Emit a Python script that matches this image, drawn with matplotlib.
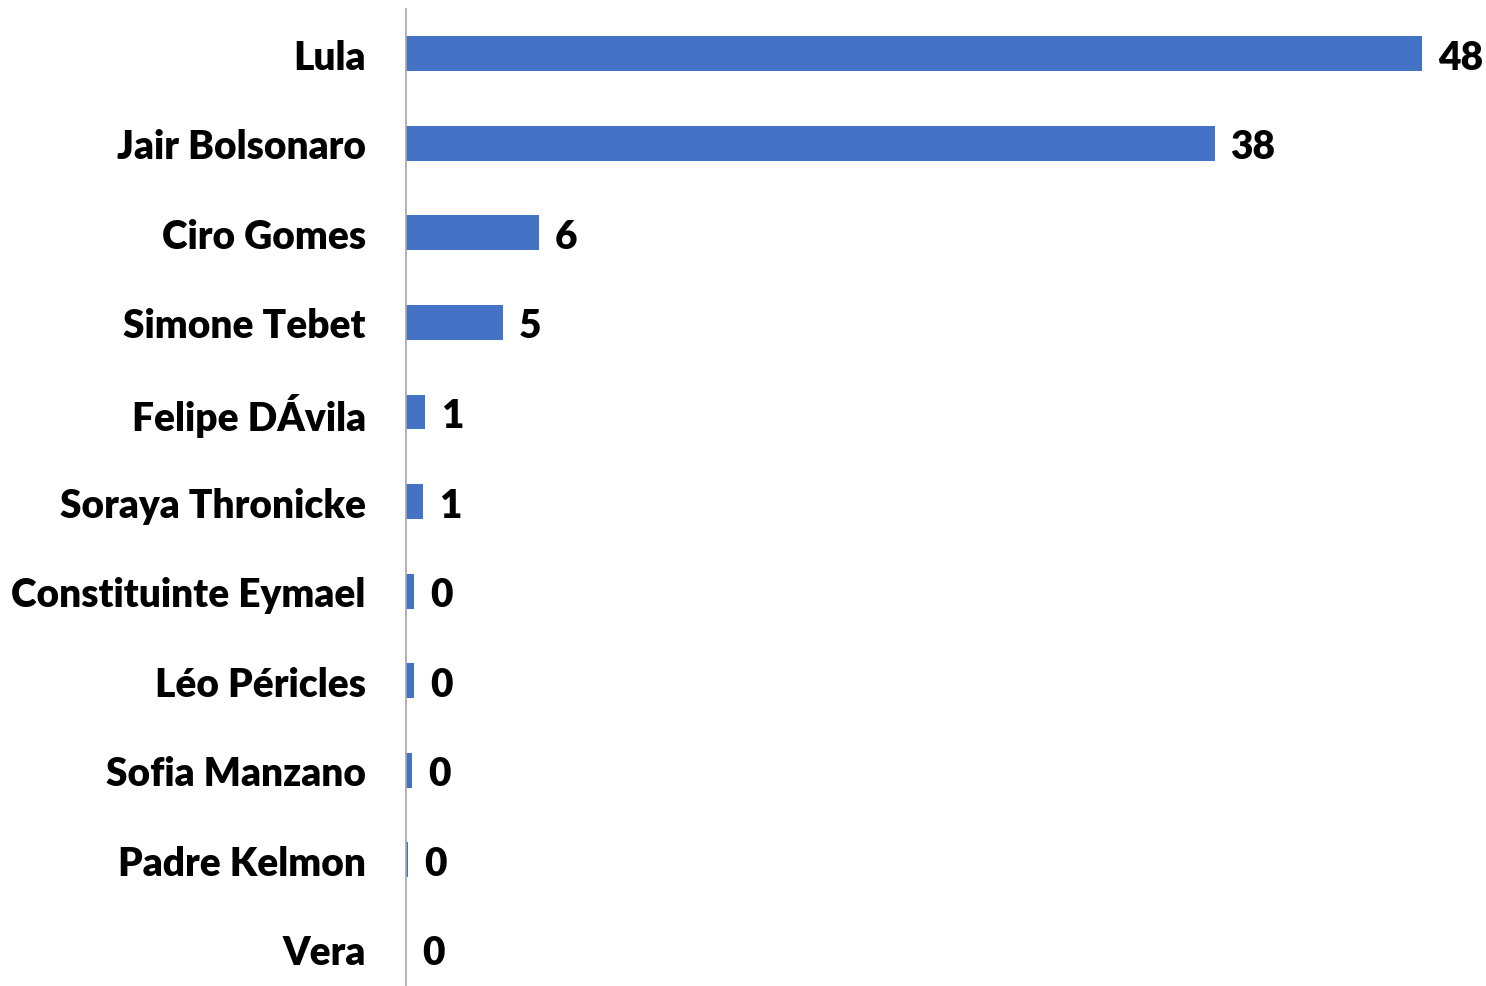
import matplotlib.pyplot as plt

candidates = ['Lula', 'Jair Bolsonaro', 'Ciro Gomes', 'Simone Tebet', 'Felipe DÁvila',
              'Soraya Thronicke', 'Constituinte Eymael', 'Léo Péricles', 'Sofia Manzano',
              'Padre Kelmon', 'Vera']
votes = [48.0, 38.2, 6.3, 4.6, 0.9, 0.8, 0.4, 0.4, 0.3, 0.1, 0.0]

plt.rcParams['font.family'] = ['Lato', 'DejaVu Sans']

fig = plt.figure(figsize=(14.86, 9.87), dpi=100)
ax = fig.add_axes([406/1486, 0.0, (1422-406)/1486, 1 - 10/987])

pos = list(range(len(candidates)))
bars = ax.barh(pos, votes, height=0.39, color='#4472C4')
ax.set_xlim(0, 48)
ax.set_ylim(10.41, -0.5)

for p, v in zip(pos, votes):
    ax.text(v + 0.75, p, '{:.0f}'.format(v), va='center_baseline', ha='left',
            fontsize=28, fontweight='heavy', clip_on=False)

ax.set_yticks(pos)
ax.set_yticklabels(candidates, fontsize=28, fontweight='heavy')
ax.tick_params(axis='y', length=0, pad=29)
ax.set_xticks([])
for s in ['top', 'right', 'bottom']:
    ax.spines[s].set_visible(False)
ax.spines['left'].set_color('#A6A6A6')
ax.spines['left'].set_linewidth(1.2)

fig.savefig('out.png', dpi=100)
